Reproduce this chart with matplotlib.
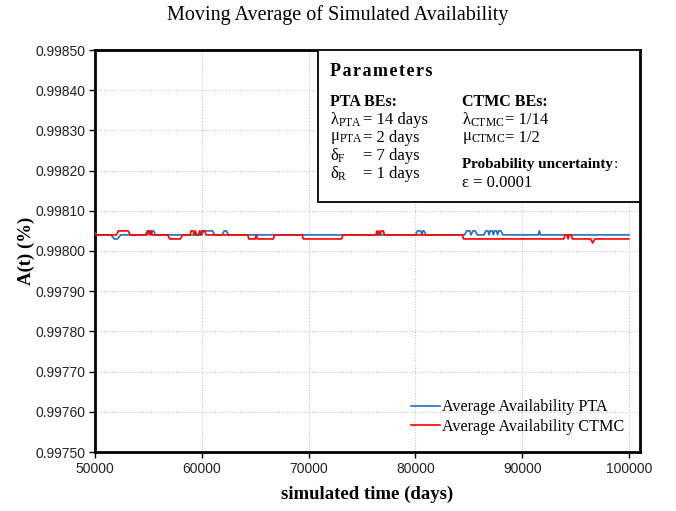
import matplotlib
matplotlib.use("Agg")
import matplotlib.pyplot as plt
from matplotlib.patches import Rectangle
from matplotlib.ticker import FormatStrFormatter, MultipleLocator

plt.rcParams['mathtext.fontset'] = 'custom'
plt.rcParams['mathtext.rm'] = 'Liberation Serif'
plt.rcParams['mathtext.it'] = 'Liberation Serif'
plt.rcParams['mathtext.default'] = 'regular'

# ---- data ----
pta_t = [50000, 50200, 51500, 51800, 52100, 52400, 54700, 54900, 55100, 55250, 55350, 55500, 55650,
         60000, 60200, 61000, 61200, 61900, 62100, 62300, 62500,
         80000, 80200, 80500, 80600, 80700, 80800, 81000,
         84600, 84800, 85100, 85200, 85400, 85600, 85800,
         86400, 86600, 86800, 86900, 87000, 87200, 87300, 87400, 87600, 87700, 87800, 88000, 88200,
         91500, 91600, 91700, 100000]
pta_a = [0.998045, 0.99804, 0.99804, 0.99803, 0.99803, 0.99804, 0.99804, 0.99805, 0.99805, 0.99804, 0.99805, 0.99805, 0.99804,
         0.99804, 0.99805, 0.99805, 0.99804, 0.99804, 0.99805, 0.99805, 0.99804,
         0.99804, 0.99805, 0.99805, 0.99804, 0.99805, 0.99805, 0.99804,
         0.99804, 0.99805, 0.99805, 0.99804, 0.99805, 0.99805, 0.99804,
         0.99804, 0.99805, 0.99805, 0.99804, 0.99805, 0.99805, 0.99804, 0.99805, 0.99805, 0.99804, 0.99805, 0.99805, 0.99804,
         0.99804, 0.99805, 0.99804, 0.99804]

ctmc_t = [50000, 52000, 52200, 53100, 53300,
          54900, 55000, 55100, 55150, 55250, 55350,
          56800, 57000, 58000, 58200,
          58900, 59000, 59200, 59300, 59400, 59500, 59700, 59800, 59900, 60000, 60300, 60400,
          64300, 64400, 65000, 65100, 65200, 66700, 66800,
          69400, 69500, 73100, 73200,
          76300, 76400, 76500, 76600, 76700, 76800, 77000, 77100,
          84400, 84500,
          93900, 94000, 94200, 94300, 94400, 94600, 94700,
          96400, 96600, 96800, 100000]
ctmc_a = [0.99804, 0.99804, 0.99805, 0.99805, 0.99804,
          0.99804, 0.99805, 0.99805, 0.99804, 0.99805, 0.99804,
          0.99804, 0.99803, 0.99803, 0.99804,
          0.99804, 0.99805, 0.99805, 0.99804, 0.99805, 0.99804, 0.99804, 0.99805, 0.99804, 0.99805, 0.99805, 0.99804,
          0.99804, 0.99803, 0.99803, 0.99804, 0.99803, 0.99803, 0.99804,
          0.99804, 0.99803, 0.99803, 0.99804,
          0.99804, 0.99805, 0.99804, 0.99805, 0.99804, 0.99805, 0.99805, 0.99804,
          0.99804, 0.99803,
          0.99803, 0.99804, 0.99804, 0.99803, 0.99804, 0.99804, 0.99803,
          0.99803, 0.99802, 0.99803, 0.99803]

x_ticks = [50000, 60000, 70000, 80000, 90000, 100000]
series_labels = ["Average Availability PTA", "Average Availability CTMC"]

SERIF = 'Liberation Serif'
SANS = 'Liberation Sans'

fig = plt.figure(figsize=(6.76, 5.11), dpi=100)
W, H = 676, 511
L, R, T, B = 95, 640, 50, 452
ax = fig.add_axes([L / W, (H - B) / H, (R - L) / W, (B - T) / H])

ax.plot(pta_t, pta_a, color='#1F6FC0', lw=1.2, label=series_labels[0], zorder=3)
ax.plot(ctmc_t, ctmc_a, color='#FF0000', lw=1.2, label=series_labels[1], zorder=4)

ax.set_xlim(50000, 101030)
ax.set_ylim(0.99750, 0.99850)
ax.set_xticks(x_ticks)
ax.yaxis.set_major_locator(MultipleLocator(0.0001))
ax.yaxis.set_major_formatter(FormatStrFormatter('%.5f'))
ax.grid(True, color='#C8C8C8', linestyle=(0, (1, 1.5)), linewidth=0.8)
ax.set_axisbelow(True)
for s in ax.spines.values():
    s.set_linewidth(2.0)
    s.set_color('black')
ax.tick_params(direction='out', length=4, width=1, labelsize=10, pad=3)
for lbl in ax.get_xticklabels() + ax.get_yticklabels():
    lbl.set_fontfamily(SANS)
    lbl.set_color('#222222')

fig.text(338 / W, 1 - 15 / H, "Moving Average of Simulated Availability",
         ha='center', va='center', fontsize=14.5, fontfamily=SERIF)
ax.set_xlabel("simulated time (days)", fontsize=13.5, fontweight='bold', fontfamily=SERIF, labelpad=7)
ax.set_ylabel("A(t) (%)", fontsize=13.5, fontweight='bold', fontfamily=SERIF, labelpad=0)

# parameters box
def px(x, y):
    return ((x - L) / (R - L), (B - y) / (B - T))

bx0, by0 = px(318, 202)
bx1, by1 = px(640, 50)
ax.add_patch(Rectangle((bx0, by0), bx1 - bx0, by1 - by0, transform=ax.transAxes,
                       facecolor='white', edgecolor='black', lw=1.3, zorder=5))

def t(x, y, s, **kw):
    xx, yy = px(x, y)
    ax.text(xx, yy, s, transform=ax.transAxes, va='center', ha='left', zorder=6, **kw)

t(330, 71, "\u200a".join("Parameters"), fontsize=13, fontweight='bold',
  family=[SERIF, 'DejaVu Serif'])
t(330, 102, "PTA BEs:", fontsize=11.5, fontweight='bold', family=SERIF)
t(462, 102, "CTMC BEs:", fontsize=11.5, fontweight='bold', family=SERIF)
ms = 12
t(330, 120, r"$\lambda_{PTA}$", fontsize=ms, family=SERIF)
t(363, 120, "= 14 days", fontsize=ms, family=SERIF)
t(330, 138, r"$\mu_{PTA}$", fontsize=ms, family=SERIF)
t(363, 138, "= 2 days", fontsize=ms, family=SERIF)
t(330, 156, r"$\delta_{F}$", fontsize=ms, family=SERIF)
t(363, 156, "= 7 days", fontsize=ms, family=SERIF)
t(330, 174, r"$\delta_{R}$", fontsize=ms, family=SERIF)
t(363, 174, "= 1 days", fontsize=ms, family=SERIF)
t(462, 120, r"$\lambda_{CTMC}$", fontsize=ms, family=SERIF)
t(505, 120, "= 1/14", fontsize=ms, family=SERIF)
t(462, 138, r"$\mu_{CTMC}$", fontsize=ms, family=SERIF)
t(505, 138, "= 1/2", fontsize=ms, family=SERIF)
t(462, 164, "Probability uncertainty", fontsize=10.9, fontweight='bold', family=SERIF)
t(614, 164, ":", fontsize=11, family=SERIF)
t(462, 183, "\u03b5 = 0.0001", fontsize=ms, family=SERIF)

leg = ax.legend(loc='lower right', bbox_to_anchor=(0.983, 0.027), frameon=False,
                prop={'family': SERIF, 'size': 11.6}, handlelength=1.85,
                handletextpad=0.1, labelspacing=0.22, borderaxespad=0.0)
leg.set_zorder(6)

fig.savefig("out.png", dpi=100)
